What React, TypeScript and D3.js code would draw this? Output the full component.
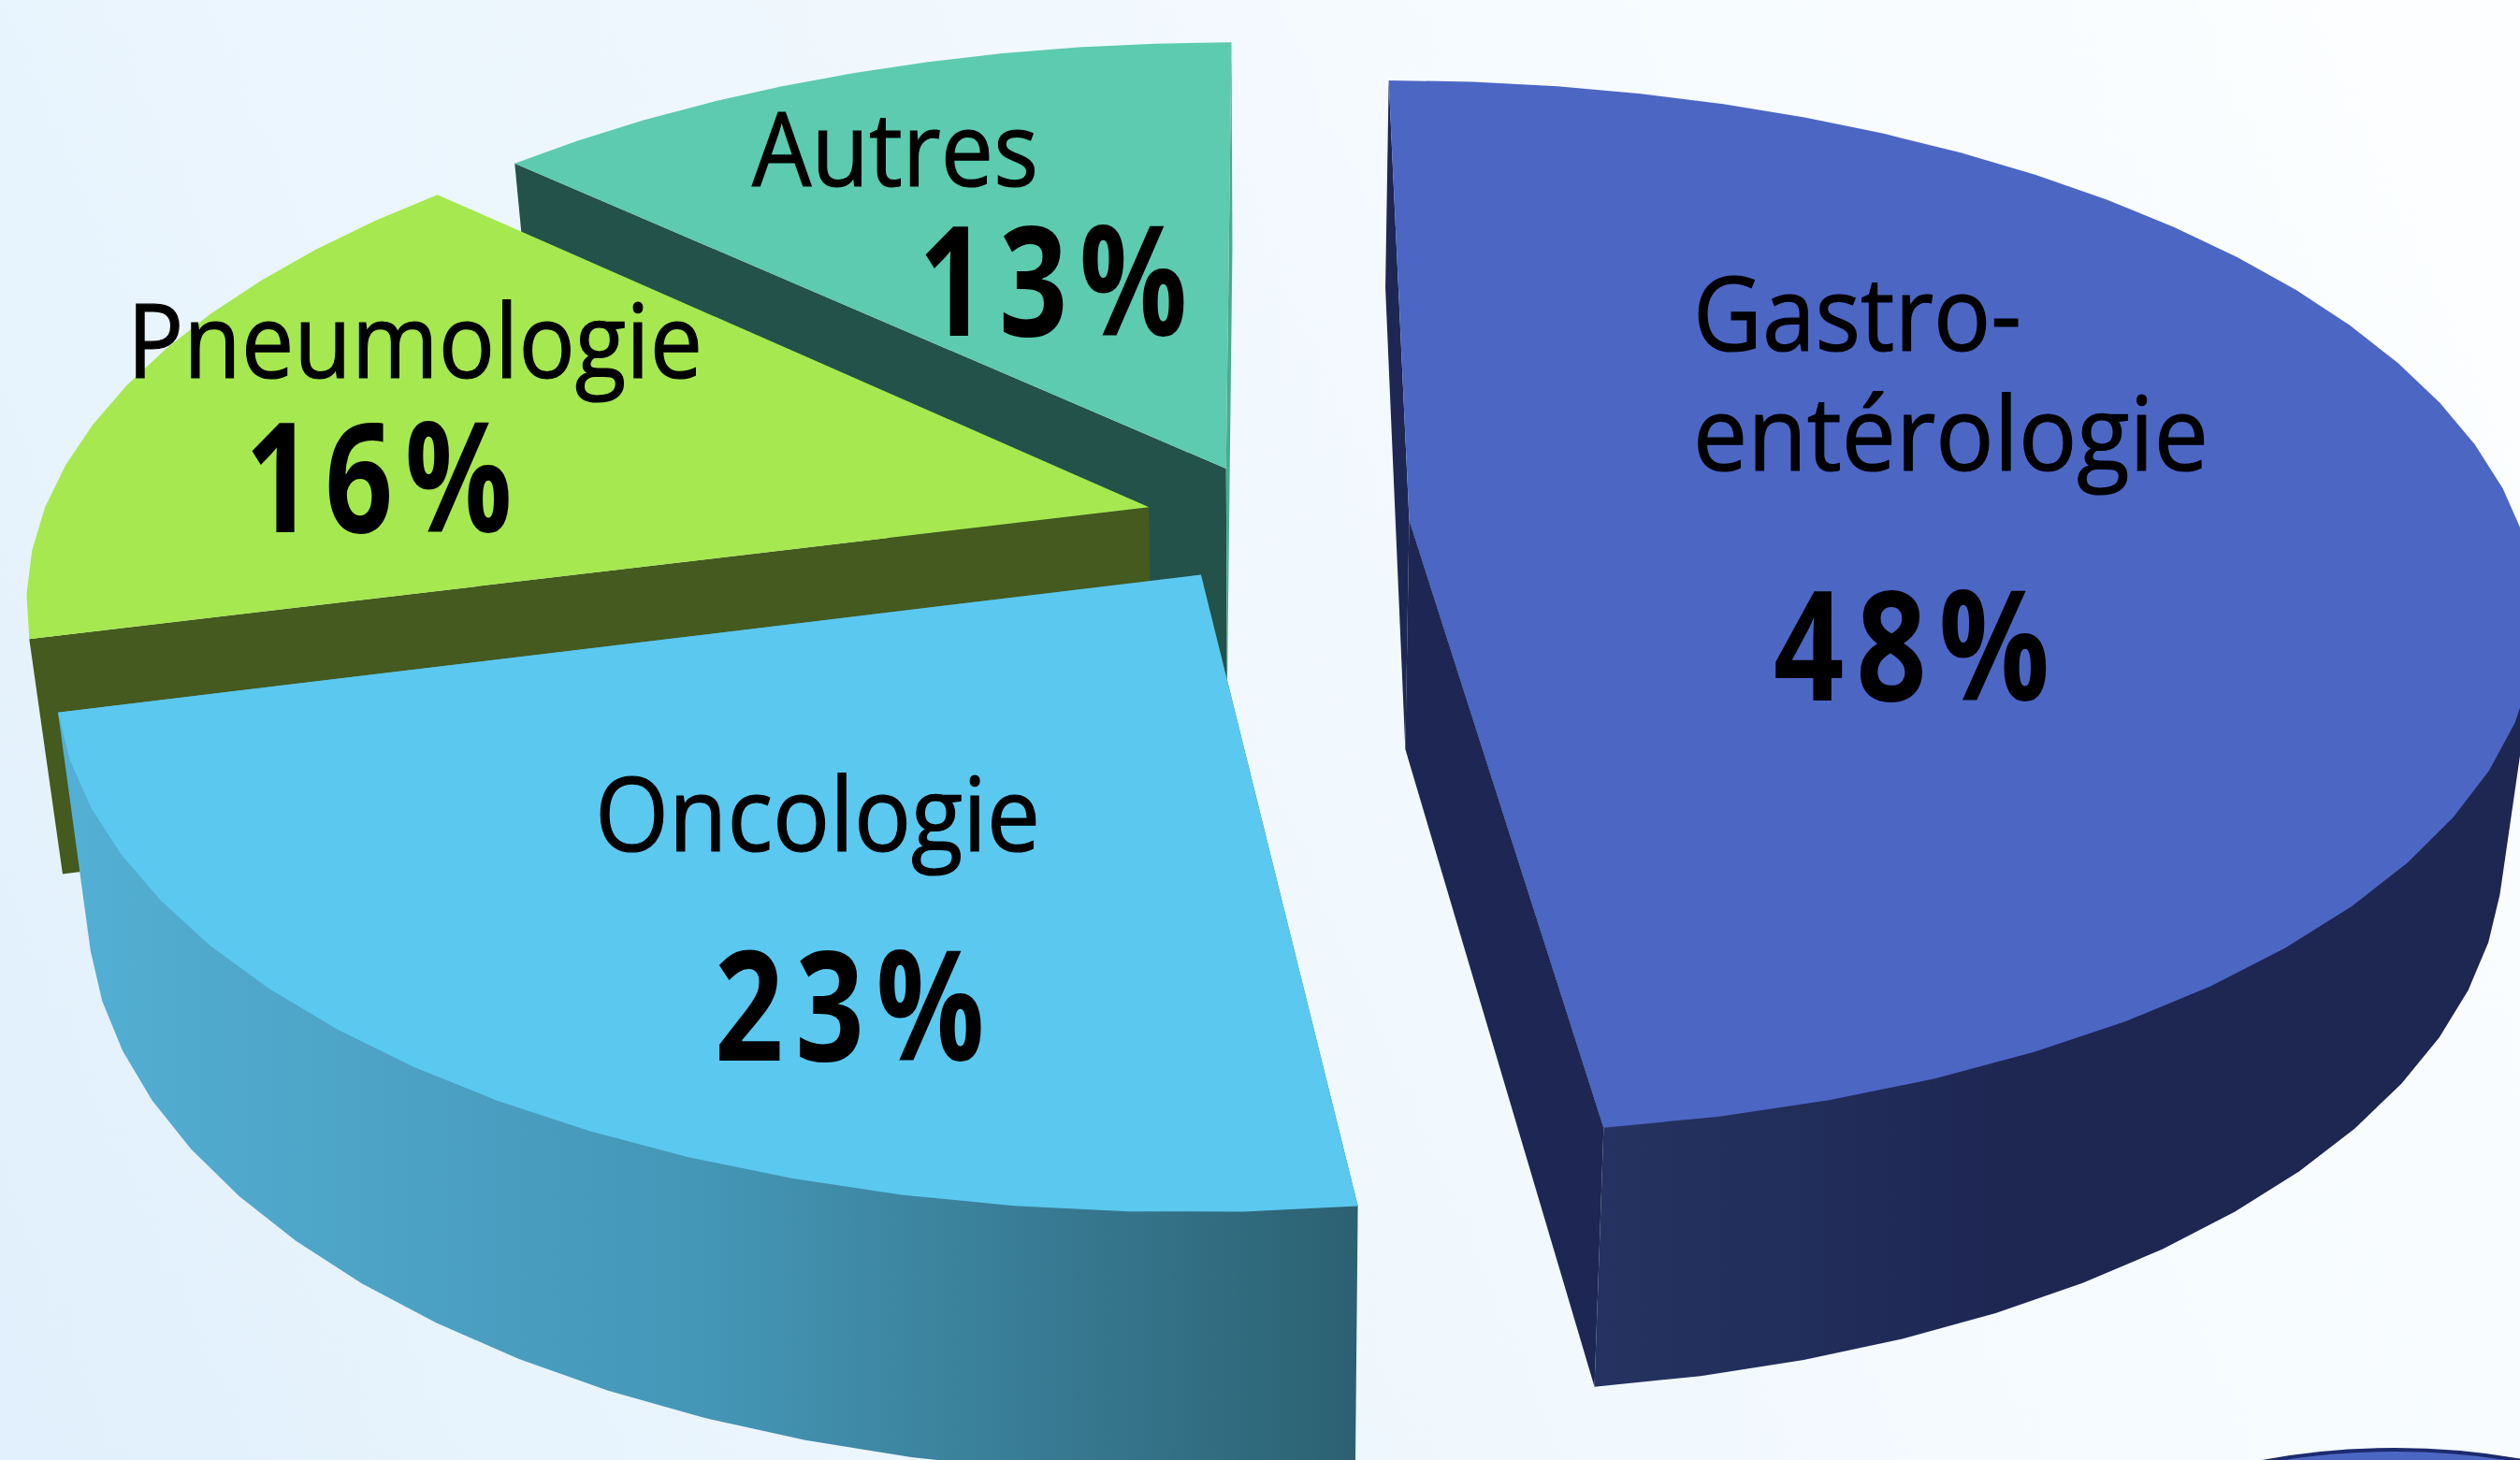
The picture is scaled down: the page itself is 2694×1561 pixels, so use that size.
import * as d3 from 'd3';

const categories = ['Gastro-entérologie', 'Oncologie', 'Pneumologie', 'Autres'];
const shares = [48, 23, 16, 13];
// how far each slice is pulled out of the pie, in radius units
const explodeX = [0.1304, -0.0565, -0.1048, -0.0354];
const explodeY = [0, 0.105, -0.025, -0.102];

const topColors = ['#4c66c4', '#5bc8ef', '#a6e850', '#5ccbb0'];
const sideColors = ['#1e2753', 'url(#oncoWall)', '#445a1e', '#23524a'];

const WIDTH = 2694;
const HEIGHT = 1561;

// perspective of the pie: top face and the (slightly narrower) bottom face
const K = 0.165;
const X0 = 1352;
const topFace = { a: 1185, y0: -2763, L: 3319 };
const bottomFace = { a: 1153, y0: -2682, L: 3483 };
// where the gastro side wall turns away from the viewer
const GASTRO_TURN = (105 * Math.PI) / 180;

const slices = d3.pie<number>().sort(null).value(d => d)(shares);
const line = d3.line();

function project(i: number, theta: number, r: number, face: typeof topFace): [number, number] {
  const u = explodeX[i] + r * Math.sin(theta);
  const v = explodeY[i] - r * Math.cos(theta);
  const d = 1 - K * v;
  return [X0 + (face.a * u) / d, face.y0 + face.L / d];
}

function arcPoints(i: number, face: typeof topFace, from: number, to: number) {
  const n = Math.ceil((to - from) / 0.09);
  return d3.range(n + 1).map(k => project(i, from + ((to - from) * k) / n, 1, face));
}

function facePath(i: number) {
  const { startAngle, endAngle } = slices[i];
  return line([project(i, 0, 0, topFace), ...arcPoints(i, topFace, startAngle, endAngle)]) + 'Z';
}

function edgeWall(i: number, theta: number) {
  return line([
    project(i, theta, 1, topFace),
    project(i, 0, 0, topFace),
    project(i, 0, 0, bottomFace),
    project(i, theta, 1, bottomFace),
  ]) + 'Z';
}

// runs under the top face through the apex, so no gap shows along the rim
function arcWall(i: number, from: number, to: number) {
  return line([
    project(i, from, 1, topFace),
    project(i, 0, 0, topFace),
    project(i, to, 1, topFace),
    ...arcPoints(i, bottomFace, from, to).reverse(),
  ]) + 'Z';
}

type Label = { text: string; x0: number; x1: number; y: number; bold?: boolean };
const labels: Label[] = [
  { text: 'Autres', x0: 804, x1: 1110, y: 199 },
  { text: '13%', x0: 982, x1: 1282, y: 359, bold: true },
  { text: 'Pneumologie', x0: 136, x1: 751, y: 404 },
  { text: '16%', x0: 262, x1: 560, y: 569, bold: true },
  { text: 'Oncologie', x0: 636, x1: 1112, y: 910 },
  { text: '23%', x0: 764, x1: 1065, y: 1134, bold: true },
  { text: 'Gastro-', x0: 1810, x1: 2161, y: 375 },
  { text: 'entérologie', x0: 1810, x1: 2361, y: 503 },
  { text: '48%', x0: 1896, x1: 2204, y: 749, bold: true },
];

export default function App() {
  return (
    <svg
      width={WIDTH}
      height={HEIGHT}
      viewBox={`0 0 ${WIDTH} ${HEIGHT}`}
      style={{ position: 'absolute', left: 0, top: 0, display: 'block' }}
      role="img"
      aria-label={categories.join(', ')}
    >
      <defs>
        <linearGradient id="bg" gradientUnits="userSpaceOnUse" x1={2694} y1={400} x2={0} y2={1561}>
          <stop offset="0" stopColor="#fcfeff" />
          <stop offset="0.5" stopColor="#f0f8fe" />
          <stop offset="0.8" stopColor="#e8f4fd" />
          <stop offset="1" stopColor="#e1f0fc" />
        </linearGradient>
        <linearGradient id="oncoWall" gradientUnits="userSpaceOnUse" x1={70} y1={0} x2={1450} y2={0}>
          <stop offset="0" stopColor="#53afd4" />
          <stop offset="0.5" stopColor="#4496b6" />
          <stop offset="1" stopColor="#2c6172" />
        </linearGradient>
        <linearGradient id="gastroWall" gradientUnits="userSpaceOnUse" x1={1700} y1={0} x2={2150} y2={0}>
          <stop offset="0" stopColor="#253362" />
          <stop offset="1" stopColor="#1e2752" />
        </linearGradient>
      </defs>
      <rect width={WIDTH} height={HEIGHT} fill="url(#bg)" />

      {/* back to front: Autres, Pneumologie, Oncologie, Gastro */}
      <path d={edgeWall(3, slices[3].startAngle)} fill={sideColors[3]} />
      <path d={edgeWall(3, slices[3].endAngle)} fill="#4aab8e" />
      <path d={facePath(3)} fill={topColors[3]} />

      <path d={edgeWall(2, slices[2].startAngle)} fill={sideColors[2]} />
      <path d={facePath(2)} fill={topColors[2]} />

      <path d={arcWall(1, slices[1].startAngle, slices[1].endAngle)} fill={sideColors[1]} />
      <path d={facePath(1)} fill={topColors[1]} />

      <path d={edgeWall(0, slices[0].startAngle)} fill={sideColors[0]} />
      <path d={edgeWall(0, slices[0].endAngle)} fill={sideColors[0]} />
      <path d={arcWall(0, GASTRO_TURN, slices[0].endAngle)} fill="url(#gastroWall)" />
      <path d={facePath(0)} fill={topColors[0]} />

      {labels.map(l => (
        <text
          key={l.text}
          x={l.x0}
          y={l.y}
          fontFamily="'Open Sans', sans-serif"
          fontSize={l.bold ? 164 : 110}
          fontWeight={l.bold ? 700 : 400}
          letterSpacing={l.bold ? 16 : 0}
          textLength={l.x1 - l.x0}
          lengthAdjust="spacingAndGlyphs"
          fill="#000"
          stroke={l.bold ? 'none' : '#000'}
          strokeWidth={1.2}
        >
          {l.text}
        </text>
      ))}

      <ellipse cx={2560} cy={1750} rx={400} ry={200} fill="#4c66c4" stroke="#1c2b6e" strokeWidth={4} />
    </svg>
  );
}
